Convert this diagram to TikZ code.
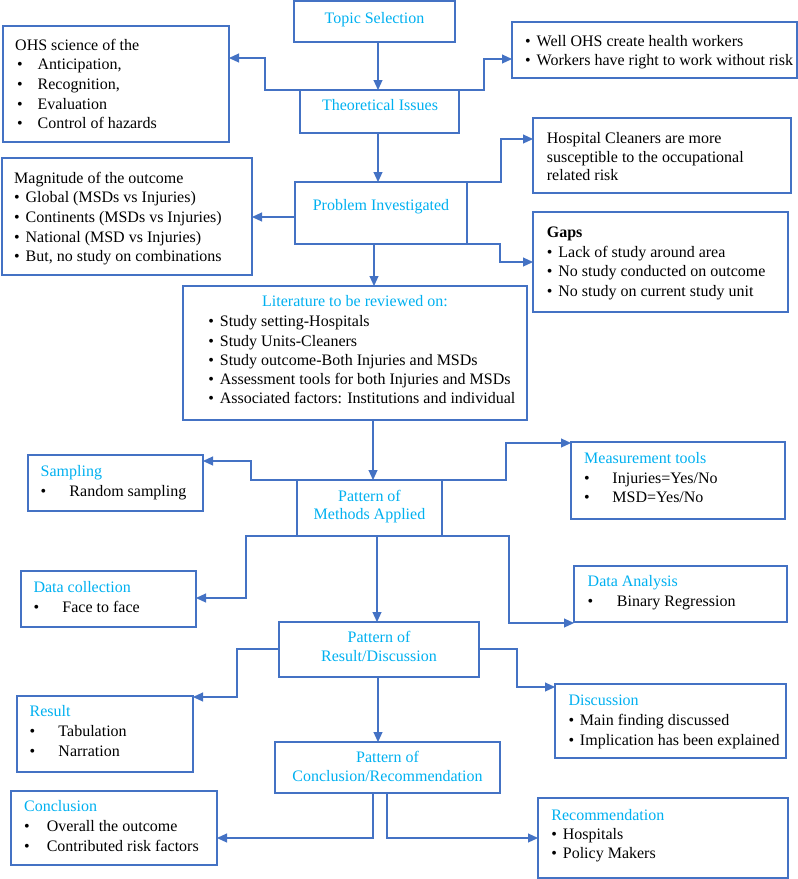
\documentclass[tikz,border=0pt]{standalone}
\usepackage{fontspec}
\setmainfont{Liberation Serif}
\usetikzlibrary{arrows.meta,fit,calc}
\definecolor{bxc}{HTML}{4472C4}
\definecolor{ttl}{HTML}{00B0F0}
\newcommand\mylines[3]{\fontsize{16}{#1}\selectfont\begin{tabular}[t]{@{}#2@{}}#3\end{tabular}}
\newcommand\bi{\makebox[11.5pt][l]{\textbullet}}
\newcommand\bt[1]{\makebox[#1][l]{\textbullet}}
\newcommand\ttlx[1]{{\color{ttl}#1}}
\begin{document}
\begin{tikzpicture}[x=1pt,y=-1pt,
  box/.style={draw=bxc, line width=1.8pt, inner sep=0pt, outer sep=0pt},
  conn/.style={draw=bxc, line width=1.1pt, -{Triangle[length=10pt,width=9pt]}},
  txt/.style={inner sep=0pt, anchor=base west},
  ctxt/.style={inner sep=0pt, anchor=base}]
\useasboundingbox (0,0) rectangle (798,879);

% boxes
\node[box, fit={(294,1)(455,42)}] (topic) {};
\node[box, fit={(300,90)(459,133)}] (theo) {};
\node[box, fit={(3,26)(229,142)}] (ohs) {};
\node[box, fit={(512,22)(797,78)}] (well) {};
\node[box, fit={(295,182)(467,244)}] (prob) {};
\node[box, fit={(2,158)(252,275)}] (mag) {};
\node[box, fit={(533,118)(791,193)}] (hosp) {};
\node[box, fit={(533,212)(788,312)}] (gaps) {};
\node[box, fit={(183,286)(527,420)}] (lit) {};
\node[box, fit={(297,480)(442,536)}] (meth) {};
\node[box, fit={(28,455)(203,511)}] (samp) {};
\node[box, fit={(571,442)(785,519)}] (meas) {};
\node[box, fit={(21,571)(196,627)}] (dcol) {};
\node[box, fit={(574,566)(787,622)}] (dana) {};
\node[box, fit={(279,622)(479,677)}] (resd) {};
\node[box, fit={(17,696)(193,772)}] (resu) {};
\node[box, fit={(555,684)(786,758)}] (disc) {};
\node[box, fit={(275,742)(500,793)}] (concrec) {};
\node[box, fit={(11,791)(217,865)}] (conc) {};
\node[box, fit={(538,798)(788,878)}] (rec) {};

% texts
\node[ctxt] (topicT) at (374.5,23) {\mylines{19.6}{c}{\ttlx{Topic Selection}}};
\node[ctxt] (theoT) at (380,110) {\mylines{19.6}{c}{\ttlx{Theoretical Issues}}};
\node[txt] (ohsT) at (15,50) {\mylines{19.7}{l}{OHS science of the\\
  \hspace{2pt}\bt{20.5pt}Anticipation,\\
  \hspace{2pt}\bt{20.5pt}Recognition,\\
  \hspace{2pt}\bt{20.5pt}Evaluation\\
  \hspace{2pt}\bt{20.5pt}Control of hazards}};
\node[txt] (wellT) at (525,46.7) {\mylines{19}{l}{\bi Well OHS create health workers\\
  \bi Workers have right to work without risk}};
\node[ctxt] (probT) at (381,210) {\mylines{19.6}{c}{\ttlx{Problem Investigated}}};
\node[txt] (magT) at (14,183.3) {\mylines{19.6}{l}{Magnitude of the outcome\\
  \bi Global (MSDs vs Injuries)\\
  \bi Continents (MSDs vs Injuries)\\
  \bi National (MSD vs Injuries)\\
  \bi But, no study on combinations}};
\node[txt] (hospT) at (546.7,143.7) {\mylines{18.5}{l}{Hospital Cleaners are more\\
  susceptible to the occupational\\
  related risk}};
\node[txt] (gapsT) at (546.7,237.5) {\mylines{19.7}{l}{\textbf{Gaps}\\
  \bi Lack of study around area\\
  \bi No study conducted on outcome\\
  \bi No study on current study unit}};
\node[ctxt] (litH) at (355,306.7) {\mylines{19.3}{c}{\ttlx{Literature to be reviewed on:}}};
\node[txt] (litT) at (208.2,326.7) {\mylines{19.3}{l}{\bi Study setting-Hospitals\\
  \bi Study Units-Cleaners\\
  \bi Study outcome-Both Injuries and MSDs\\
  \bi Assessment tools for both Injuries and MSDs\\
  \bi Associated factors: Institutions and individual}};
\node[ctxt] (methT) at (369.5,501.7) {\mylines{17.6}{c}{\ttlx{Pattern of}\\ \ttlx{Methods Applied}}};
\node[txt] (sampT) at (40.5,476.7) {\mylines{20}{l}{\ttlx{Sampling}\\
  \bt{28.8pt}Random sampling}};
\node[txt] (measT) at (584,463.3) {\mylines{19.7}{l}{\ttlx{Measurement tools}\\
  \bt{28.3pt}Injuries=Yes/No\\
  \bt{28.3pt}MSD=Yes/No}};
\node[txt] (dcolT) at (33.3,592.3) {\mylines{20}{l}{\ttlx{Data collection}\\
  \bt{29pt}Face to face}};
\node[txt] (danaT) at (587.5,586.7) {\mylines{20}{l}{\ttlx{Data Analysis}\\
  \bt{29.2pt}Binary Regression}};
\node[ctxt] (resdT) at (379,642.7) {\mylines{18.3}{c}{\ttlx{Pattern of}\\ \ttlx{Result/Discussion}}};
\node[txt] (resuT) at (29.5,716.7) {\mylines{19.7}{l}{\ttlx{Result}\\
  \bt{28.8pt}Tabulation\\
  \bt{28.8pt}Narration}};
\node[txt] (discT) at (568.3,705) {\mylines{20}{l}{\ttlx{Discussion}\\
  \bi Main finding discussed\\
  \bi Implication has been explained}};
\node[ctxt] (concrecT) at (387.5,762.7) {\mylines{18.3}{c}{\ttlx{Pattern of}\\ \ttlx{Conclusion/Recommendation}}};
\node[txt] (concT) at (24,811.7) {\mylines{19.7}{l}{\ttlx{Conclusion}\\
  \bt{22.6pt}Overall the outcome\\
  \bt{22.6pt}Contributed risk factors}};
\node[txt] (recT) at (551.2,820) {\mylines{19.2}{l}{\ttlx{Recommendation}\\
  \bi Hospitals\\
  \bi Policy Makers}};

% connectors
\draw[conn] (topic.south -| 378,0) -- (theo.north -| 378,0);
\draw[conn] (theo.north west) -| (265,58) -- (ohs.east |- 0,58);
\draw[conn] (theo.north east) -| (484,59) -- (well.west |- 0,59);
\draw[conn] (theo.south -| 378,0) -- (prob.north -| 378,0);
\draw[conn] (prob.west |- 0,217) -- (mag.east |- 0,217);
\draw[conn] (prob.north east) -| (501,139) -- (hosp.west |- 0,139);
\draw[conn] (prob.south east) -| (500,262) -- (gaps.west |- 0,262);
\draw[conn] (prob.south -| 374,0) -- (lit.north -| 374,0);
\draw[conn] (lit.south -| 373,0) -- (meth.north -| 373,0);
\draw[conn] (meth.north west) -| (251,461) -- (samp.east |- 0,461);
\draw[conn] (meth.north east) -| (506,443) -- (meas.west |- 0,443);
\draw[conn] (meth.south west) -| (246,598) -- (dcol.east |- 0,598);
\draw[conn] (meth.south east) -| (509,623) -- (dana.west |- 0,623);
\draw[conn] (meth.south -| 377,0) -- (resd.north -| 377,0);
\draw[conn] (resd.west |- 0,649) -| (237,697) -- (resu.east |- 0,697);
\draw[conn] (resd.east |- 0,649) -| (517,687) -- (disc.west |- 0,687);
\draw[conn] (resd.south -| 378,0) -- (concrec.north -| 378,0);
\draw[conn] (concrec.south -| 373,0) |- (conc.east |- 0,838);
\draw[conn] (concrec.south -| 387,0) |- (rec.west |- 0,838);
\end{tikzpicture}
\end{document}
